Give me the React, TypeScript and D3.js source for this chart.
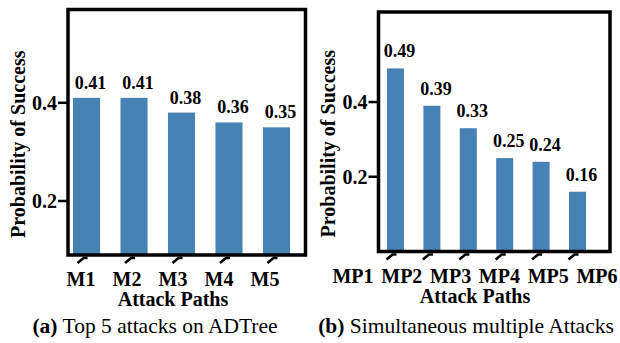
import React from 'react';
import * as d3 from 'd3';

// panel (a): top 5 attacks on ADTree
const topPaths = ['M1', 'M2', 'M3', 'M4', 'M5'];
const topValues = [0.41, 0.41, 0.38, 0.36, 0.35];

// panel (b): simultaneous multiple attacks
const multiPaths = ['MP1', 'MP2', 'MP3', 'MP4', 'MP5', 'MP6'];
const multiValues = [0.49, 0.39, 0.33, 0.25, 0.24, 0.16];

const yTicks = [0.2, 0.4];

const FONT = '"Liberation Serif", "Times New Roman", serif';
const BAR = '#4682b4';

type PanelProps = {
  cats: string[];
  values: number[];
  frame: { x0: number; x1: number; y0: number; y1: number };
  barRange: [number, number];
  padInner: number;
  labelRange: [number, number];
  yDomain: [number, number];
  valueGap: number;
  yTitleX: number;
  caption: string;
  tag: string;
  captionX: number;
};

function Panel(p: PanelProps) {
  const { frame } = p;
  const x = d3.scaleBand<string>().domain(p.cats).range(p.barRange).paddingInner(p.padInner).paddingOuter(0);
  const xl = d3.scalePoint<string>().domain(p.cats).range(p.labelRange);
  const y = d3.scaleLinear().domain(p.yDomain).range([frame.y1, frame.y0]);
  const fmt = d3.format('.2f');
  // title sits a bit below the frame's middle in the original
  const titleY = (frame.y0 + frame.y1) / 2 + 12;

  return (
    <g fontFamily={FONT}>
      {p.cats.map((c, i) => (
        <rect key={c} x={x(c)} y={y(p.values[i])} width={x.bandwidth()}
          height={frame.y1 - y(p.values[i])} fill={BAR} />
      ))}
      {p.cats.map((c, i) => (
        <text key={'v' + c} x={(x(c) as number) + x.bandwidth() / 2 + 4} y={y(p.values[i]) - p.valueGap}
          textAnchor="middle" fontSize={18} fontWeight="bold">{fmt(p.values[i])}</text>
      ))}
      <rect x={frame.x0} y={frame.y0} width={frame.x1 - frame.x0} height={frame.y1 - frame.y0}
        fill="none" stroke="#000" strokeWidth={3.5} />
      {yTicks.map(t => (
        <g key={t} transform={`translate(${frame.x0},${y(t)})`}>
          <line x1={-10} x2={0} stroke="#000" strokeWidth={2.5} />
          <text x={-11} dy="0.35em" textAnchor="end" fontSize={20} fontWeight="bold">{d3.format('.1f')(t)}</text>
        </g>
      ))}
      {p.cats.map(c => {
        const cx = (x(c) as number) + x.bandwidth() / 2;
        const b = frame.y1 + 2;
        return (
          <path key={'t' + c} d={`M${cx - 9},${b + 6} L${cx - 3},${b + 1} L${cx + 1},${b + 1}`}
            fill="none" stroke="#000" strokeWidth={2.6} />
        );
      })}
      {p.cats.map(c => (
        <text key={'l' + c} x={xl(c)} y={frame.y1 + 31} textAnchor="middle" fontSize={20} fontWeight="bold">{c}</text>
      ))}
      <text x={(p.labelRange[0] + p.labelRange[1]) / 2} y={frame.y1 + 51} textAnchor="middle"
        fontSize={20} fontWeight="bold">Attack Paths</text>
      <text transform={`translate(${p.yTitleX},${titleY}) rotate(-90)`} textAnchor="middle"
        fontSize={20} fontWeight="bold">Probability of Success</text>
      <text x={p.captionX} y={333} textAnchor="middle" fontSize={21.5}>
        <tspan fontWeight="bold">({p.tag})</tspan> {p.caption}
      </text>
    </g>
  );
}

export default function App() {
  return (
    <svg width={620} height={343} style={{ position: 'absolute', left: 0, top: 0, background: '#fff' }}>
      <Panel cats={topPaths} values={topValues}
        frame={{ x0: 68, x1: 305.5, y0: 9.5, y1: 255 }}
        barRange={[73, 290]} padInner={0.43} labelRange={[81, 265]}
        yDomain={[0.09, 0.59]} valueGap={9} yTitleX={25}
        tag="a" caption="Top 5 attacks on ADTree" captionX={155} />
      <Panel cats={multiPaths} values={multiValues}
        frame={{ x0: 378.5, x1: 610, y0: 12, y1: 251.5 }}
        barRange={[387, 586]} padInner={0.533} labelRange={[353, 597]}
        yDomain={[0, 0.641]} valueGap={11} yTitleX={335}
        tag="b" caption="Simultaneous multiple Attacks" captionX={466} />
    </svg>
  );
}
